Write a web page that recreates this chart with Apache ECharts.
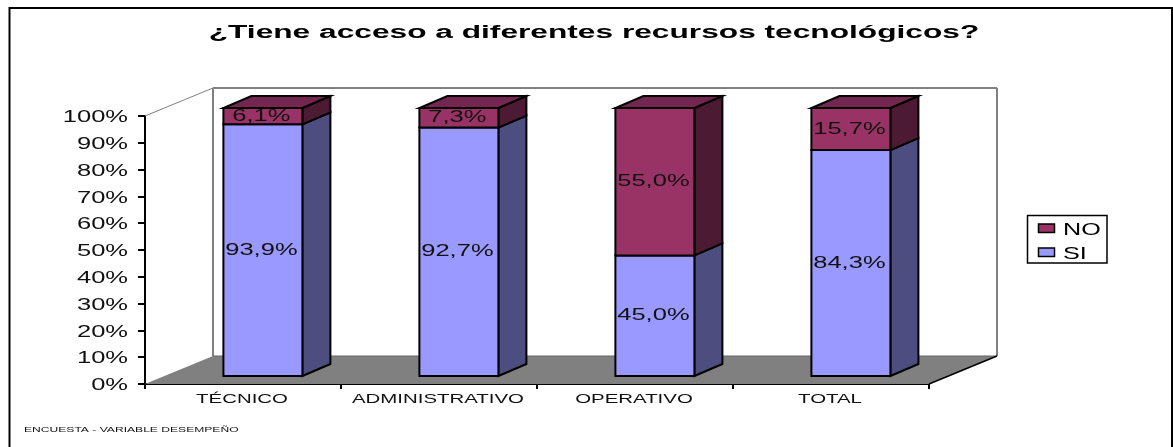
<!DOCTYPE html>
<html><head><meta charset="utf-8">
<style>html,body{margin:0;padding:0;background:#fff}#c{width:1173px;height:447px}</style>
<script src="https://cdn.jsdelivr.net/npm/echarts@6/dist/echarts.min.js"></script>
</head><body><div id="c"></div>
<script>
const titleText = '¿Tiene acceso a diferentes recursos tecnológicos?';
const footerText = 'ENCUESTA - VARIABLE DESEMPEÑO';
const categories = ['TÉCNICO', 'ADMINISTRATIVO', 'OPERATIVO', 'TOTAL'];
const siValues = [93.9, 92.7, 45.0, 84.3];
const noValues = [6.1, 7.3, 55.0, 15.7];
const siLabels = ['93,9%', '92,7%', '45,0%', '84,3%'];
const noLabels = ['6,1%', '7,3%', '55,0%', '15,7%'];
const yTicks = [0, 10, 20, 30, 40, 50, 60, 70, 80, 90, 100];
const yTickLabels = ['0%', '10%', '20%', '30%', '40%', '50%', '60%', '70%', '80%', '90%', '100%'];

const FONT = '"Liberation Sans", Arial, sans-serif';
const TEXT_SCALE = 1.5;
const DX = 68, DY = 28;             // floor depth of the 3D box
const BAR_W = 79, BAR_OFF_X = 19.9, BAR_OFF_Y = 8, BAR_DX = 28, BAR_DY = 12;

const sText = (x, y, text, size, align, extra) => ({
  type: 'text', x, y, scaleX: (extra && extra.sx) || TEXT_SCALE, z2: (extra && extra.z2) || 20, silent: true,
  style: { x: 0, y: 0, text, fontFamily: FONT, fontSize: size, align: align, verticalAlign: 'middle',
    fontWeight: (extra && extra.weight) || 'normal', fill: (extra && extra.fill) || '#111' }
});
const poly = (points, fill, stroke, lw, z2) => ({
  type: 'polygon', shape: { points }, z2: z2 || 0,
  style: { fill: fill, stroke: stroke || 'none', lineWidth: lw || 0, lineJoin: 'miter' }
});
const seg = (a, b, stroke, lw) => ({
  type: 'line', shape: { x1: a[0], y1: a[1], x2: b[0], y2: b[1] }, style: { stroke, lineWidth: lw }
});

function renderBox(front, side, top, labels) {
  return function (params, api) {
    const i = api.value(0);
    const cx = api.coord([i, 0])[0] + BAR_OFF_X;
    const yLo = api.coord([i, api.value(1)])[1] - BAR_OFF_Y;
    const yHi = api.coord([i, api.value(2)])[1] - BAR_OFF_Y;
    const l = cx - BAR_W / 2, r = cx + BAR_W / 2;
    const children = [
      poly([[r, yLo], [r + BAR_DX, yLo - BAR_DY], [r + BAR_DX, yHi - BAR_DY], [r, yHi]], side, '#000', 2),
      poly([[l, yLo], [r, yLo], [r, yHi], [l, yHi]], front, '#000', 2)
    ];
    if (top) children.push(poly([[l, yHi], [r, yHi], [r + BAR_DX, yHi - BAR_DY], [l + BAR_DX, yHi - BAR_DY]], top, '#000', 2));
    children.push(sText(cx - 1.5, (yLo + yHi) / 2, labels[i], 17, 'center'));
    return { type: 'group', children };
  };
}

const option = {
  animation: false,
  backgroundColor: '#fff',
  grid: { left: 145, top: 116, width: 784, height: 268, containLabel: false },
  xAxis: {
    type: 'category', data: categories,
    axisLine: { lineStyle: { color: '#000', width: 2 } },
    axisTick: { show: true, length: 5, lineStyle: { color: '#000', width: 2 } },
    axisLabel: { show: false }, splitLine: { show: false }
  },
  yAxis: {
    type: 'value', min: 0, max: 100, interval: 10,
    axisLine: { show: true, lineStyle: { color: '#000', width: 2 } },
    axisTick: { show: true, length: 7, lineStyle: { color: '#000', width: 2 } },
    axisLabel: { show: false }, splitLine: { show: false }
  },
  series: [
    { // 3D walls and floor, anchored on the axes
      type: 'custom', name: 'walls', silent: true, z: 1, clip: false,
      data: [[0]],
      renderItem: function (params, api) {
        const o = api.coord([0, 0]);
        const x0 = params.coordSys ? params.coordSys.x : o[0];
        const cw = api.size([1, 0])[0];
        const yB = api.coord([0, 0])[1], yT = api.coord([0, 100])[1];
        const xL = x0, xR = x0 + cw * categories.length;
        return { type: 'group', children: [
          poly([[xL + DX, yB - DY], [xR + DX, yB - DY], [xR, yB], [xL, yB]], '#808080', 'none', 0),
          seg([xL, yT], [xL + DX, yT - DY], '#808080', 1),
          seg([xL + DX, yT - DY], [xR + DX, yT - DY], '#808080', 2),
          seg([xL + DX, yT - DY], [xL + DX, yB - DY], '#808080', 2),
          seg([xR + DX, yT - DY], [xR + DX, yB - DY], '#808080', 2),
          seg([xL + DX, yB - DY], [xR + DX, yB - DY], '#666', 1),
          seg([xR, yB], [xR + DX, yB - DY], '#000', 1.5)
        ] };
      }
    },
    {
      type: 'custom', name: 'SI', z: 3, clip: false,
      itemStyle: { color: '#9999FF' }, encode: { x: 0, y: [1, 2] },
      data: categories.map((c, i) => [i, 0, siValues[i]]),
      renderItem: renderBox('#9999FF', '#4D4D80', null, siLabels)
    },
    {
      type: 'custom', name: 'NO', z: 4, clip: false,
      itemStyle: { color: '#993366' }, encode: { x: 0, y: [1, 2] },
      data: categories.map((c, i) => [i, siValues[i], siValues[i] + noValues[i]]),
      renderItem: renderBox('#993366', '#4D1A33', '#732650', noLabels)
    },
    { // value-axis tick labels
      type: 'custom', name: 'yLabels', silent: true, z: 5, clip: false,
      data: yTicks.map((v, i) => [0, v, i]),
      renderItem: function (params, api) {
        const p = api.coord([0, api.value(1)]);
        const x0 = params.coordSys.x;
        return sText(x0 - 17, p[1] + 1.5, yTickLabels[api.value(2)], 17, 'right');
      }
    },
    { // category-axis labels
      type: 'custom', name: 'xLabels', silent: true, z: 5, clip: false,
      data: categories.map((c, i) => [i, 0]),
      renderItem: function (params, api) {
        const p = api.coord([api.value(0), 0]);
        return sText(p[0] - 1, p[1] + 15, categories[api.value(0)], 13, 'center', { sx: 1.57 });
      }
    }
  ],
  graphic: [
    { type: 'rect', z: -1, shape: { x: 9.5, y: 8, width: 1162.5, height: 445 },
      style: { fill: '#fff', stroke: '#000', lineWidth: 2 } },
    sText(594, 33.5, titleText, 18, 'center', { weight: 'bold', sx: 1.76, fill: '#000' }),
    sText(24, 430.5, footerText, 6.5, 'left', { sx: 1.86 }),
    { type: 'rect', shape: { x: 1027.5, y: 215.5, width: 79.5, height: 47.5 },
      style: { fill: '#fff', stroke: '#000', lineWidth: 1.5 } },
    { type: 'rect', shape: { x: 1038.5, y: 224, width: 16, height: 8.5 },
      style: { fill: '#993366', stroke: '#000', lineWidth: 1.5 } },
    { type: 'rect', shape: { x: 1038.5, y: 248, width: 16, height: 8.5 },
      style: { fill: '#9999FF', stroke: '#000', lineWidth: 1.5 } },
    sText(1063, 230, 'NO', 17, 'left', { fill: '#000', sx: 1.48 }),
    sText(1063, 254, 'SI', 17, 'left', { fill: '#000', sx: 1.48 })
  ]
};
const chart = echarts.init(document.getElementById('c'), null, { renderer: 'canvas' });
chart.setOption(option);
</script></body></html>
